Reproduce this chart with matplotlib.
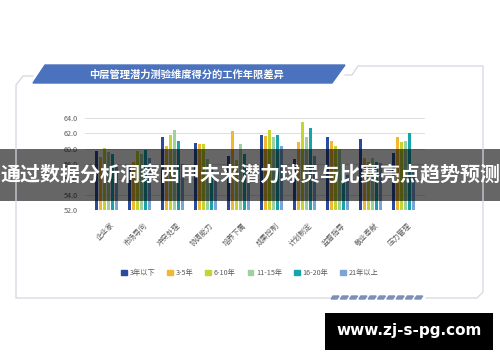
import numpy as np
import matplotlib
matplotlib.use("Agg")
import matplotlib.pyplot as plt
from matplotlib.patches import Polygon, Rectangle, Patch

plt.rcParams['font.family'] = ['Noto Sans CJK SC', 'DejaVu Sans']

categories = ['企业家', '市场导向', '冲突处理', '协调能力', '培养下属',
              '成果控制', '计划制定', '监督指导', '敬业奉献', '压力管理']
series = ['3年以下', '3-5年', '6-10年', '11-15年', '16-20年', '21年以上']
under3 = [59.7, 57.9, 61.5, 60.7, 59.1, 61.8, 58.7, 61.5, 61.2, 59.4]
y3_5 = [58.9, 58.3, 60.3, 60.6, 62.3, 61.6, 60.9, 61.0, 58.8, 61.5]
y6_10 = [60.1, 59.7, 61.8, 60.6, 58.5, 62.4, 63.5, 60.4, 58.3, 60.9]
y11_15 = [59.5, 59.3, 62.4, 58.7, 60.6, 61.5, 61.5, 59.9, 58.8, 61.0]
y16_20 = [59.3, 59.8, 61.0, 57.4, 59.3, 61.8, 62.7, 57.0, 58.3, 62.0]
over21 = [57.9, 58.8, 58.0, 55.8, 58.0, 60.3, 59.0, 56.5, 58.1, 57.2]
values = [under3, y3_5, y6_10, y11_15, y16_20, over21]
colors = ['#2a4c9f', '#f4b731', '#c4d431', '#9dd2a0', '#17a3ab', '#7ca4d8']

title = '中层管理潜力测验维度得分的工作年限差异'
banner = '通过数据分析洞察西甲未来潜力球员与比赛亮点趋势预测'
site = 'www.zj-s-pg.com'

W, H = 500, 362
fig = plt.figure(figsize=(W / 100, H / 100), dpi=100)
fig.patch.set_facecolor('white')

# chart axes (pixel box: x 85..425, y 118..210)
ax = fig.add_axes([85 / W, 1 - 210 / H, 340 / W, 92 / H])
x = np.arange(len(categories))
step = 0.118
for i, (vals, c) in enumerate(zip(values, colors)):
    ax.bar(x + (i - 2.5) * step, np.array(vals) - 52, bottom=52,
           width=0.1, color=c, zorder=3)
ax.set_xlim(-0.65, 9.65)
ax.set_ylim(52, 64)
ax.set_yticks(np.arange(52, 64.1, 2))
ax.set_yticklabels(['%.1f' % v for v in np.arange(52, 64.1, 2)])
ax.yaxis.grid(True, color='#dddddd', lw=0.7, zorder=0)
for s in ax.spines.values():
    s.set_visible(False)
ax.tick_params(axis='both', length=0, labelsize=5.2, colors='#595959')
ax.tick_params(axis='y', pad=5)
ax.set_xticks(x + 0.12)
ax.set_xticklabels(categories, rotation=45, ha='right', rotation_mode='anchor')
ax.tick_params(axis='x', pad=8)

handles = [Patch(color=c, label=s) for s, c in zip(series, colors)]
fig.legend(handles=handles, loc='center', bbox_to_anchor=(250 / W, 1 - 273 / H),
           ncol=6, frameon=False, fontsize=5.2, handlelength=0.8, handleheight=0.8,
           handletextpad=0.4, columnspacing=1.6, labelcolor='#595959')

# overlay in pixel coordinates
ov = fig.add_axes([0, 0, 1, 1], zorder=10)
ov.set_xlim(0, W)
ov.set_ylim(H, 0)
ov.axis('off')
ov.patch.set_alpha(0)

frame = '#d4d7de'
ov.plot([33, 23, 16, 16, 330], [76, 76, 85, 298, 298], color=frame, lw=0.9)
ov.plot([426, 477, 483, 483, 358, 352, 345], [298, 298, 292, 66, 66, 75, 75],
        color=frame, lw=0.9)
ov.add_patch(Polygon([[33, 83], [45, 65], [345, 65], [332, 83]],
                     closed=True, color='#4a72bd'))
ov.text(186, 74.5, title, color='white', fontsize=7.4, fontweight='bold',
        ha='center', va='center')
for k in range(10):
    x0 = 331 + k * 9.3
    ov.add_patch(Polygon([[x0, 299], [x0 + 2, 296], [x0 + 8, 296], [x0 + 6, 299]],
                         closed=True, color='#7c8fb7'))

ov.add_patch(Rectangle((0, 148.5), W, 52, color='black', alpha=0.6, lw=0))
ov.text(250, 175, banner, color='white', fontsize=14.4, fontweight='bold',
        ha='center', va='center')

ov.add_patch(Rectangle((325, 313), 168, 37, color='black', lw=0))
ov.text(409, 331, site, color='white', fontsize=11, fontweight='bold',
        ha='center', va='center', family='DejaVu Sans')

fig.savefig('out.png', dpi=100)
